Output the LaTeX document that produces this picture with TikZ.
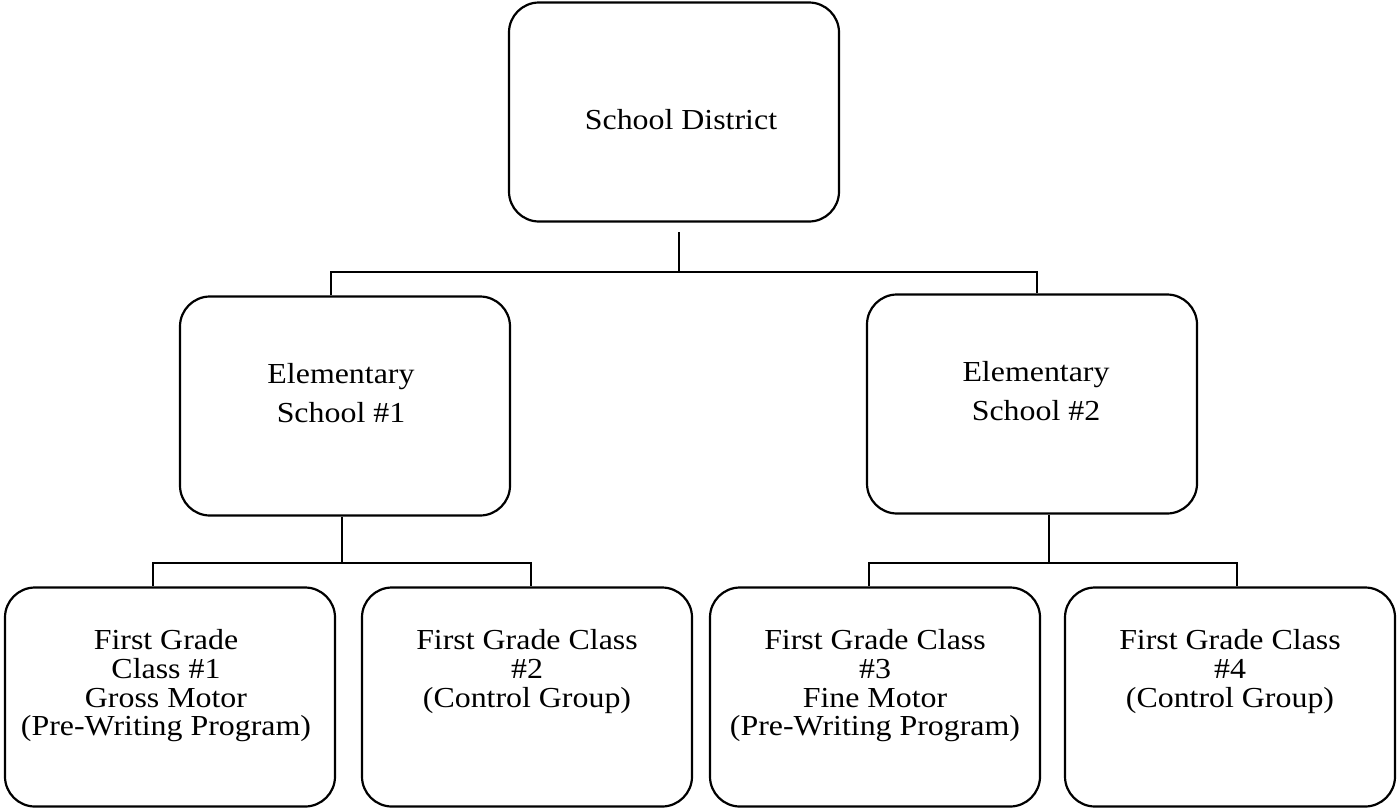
\documentclass[tikz,border=0pt]{standalone}
\usepackage{fontspec}
\setmainfont[FakeStretch=1.1]{Liberation Serif}
\usetikzlibrary{positioning}

\begin{document}
\begin{tikzpicture}[x=0.5pt,y=-0.5pt]
 \tikzstyle{every node}=[inner sep=0pt]
 \tikzstyle{unitbox}=[draw,line width=1.1pt,rounded corners=15pt,minimum width=165pt,minimum height=109.5pt]
 \tikzstyle{classtext}=[align=center,font=\fontsize{14.5}{14.3}\selectfont]
 \tikzstyle{schooltext}=[align=center,font=\fontsize{14.5}{19.5}\selectfont]
 \tikzstyle{link}=[line width=1pt]
 \useasboundingbox (0,0) rectangle (1397,809);
 % boxes
 \node[unitbox] (dist) at (674,112) {};
 \node[unitbox] (es1)  at (345,406) {};
 \node[unitbox] (es2)  at (1032,404) {};
 \node[unitbox] (cls1) at (170,697) {};
 \node[unitbox] (cls2) at (527,697) {};
 \node[unitbox] (cls3) at (875,697) {};
 \node[unitbox] (cls4) at (1230,697) {};
 % texts
 \node[classtext,xshift=3.5pt,yshift=-4pt] (distT) at (dist) {School District};
 \node[schooltext,xshift=-2pt,yshift=6.5pt] (es1T) at (es1) {Elementary\\School \#1};
 \node[schooltext,xshift=2pt,yshift=6.5pt] (es2T) at (es2) {Elementary\\School \#2};
 \node[classtext,below=21.5pt of cls1.north,xshift=-2pt] (cls1T) {First Grade\\Class \#1\\Gross Motor\\(Pre-Writing Program)};
 \node[classtext,below=21.5pt of cls2.north] (cls2T) {First Grade Class\\\#2\\(Control Group)};
 \node[classtext,below=21.5pt of cls3.north] (cls3T) {First Grade Class\\\#3\\Fine Motor\\(Pre-Writing Program)};
 \node[classtext,below=21.5pt of cls4.north] (cls4T) {First Grade Class\\\#4\\(Control Group)};
 % connectors
 \coordinate (drop) at (679,232);
 \coordinate (barL) at (331,272);
 \coordinate (barR) at (1037,272);
 \coordinate (e1m) at (342,563);
 \coordinate (e1l) at (153,563);
 \coordinate (e1r) at (531,563);
 \coordinate (e2m) at (1049,563);
 \coordinate (e2l) at (869,563);
 \coordinate (e2r) at (1237,563);
 \draw[link] (drop) -- (drop |- barL);
 \draw[link] (barL |- es1.north) -- (barL) -- (barR) -- (barR |- es2.north);
 \draw[link] (e1m |- es1.south) -- (e1m);
 \draw[link] (e1l |- cls1.north) -- (e1l) -- (e1r) -- (e1r |- cls2.north);
 \draw[link] (e2m |- es2.south) -- (e2m);
 \draw[link] (e2l |- cls3.north) -- (e2l) -- (e2r) -- (e2r |- cls4.north);
\end{tikzpicture}
\end{document}
